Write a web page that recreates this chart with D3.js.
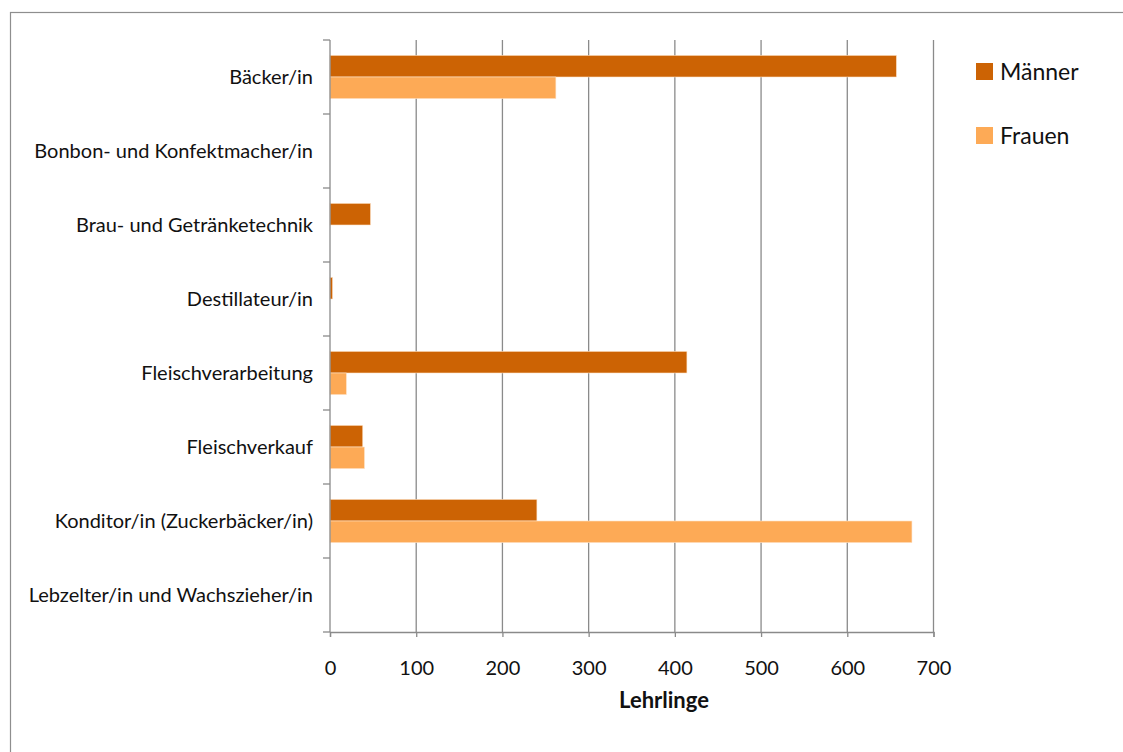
<!DOCTYPE html>
<html>
<head>
<meta charset="utf-8">
<script src="https://cdn.jsdelivr.net/npm/d3@7"></script>
<style>
    body { margin: 0; background: #fff; }
    text { font-family: Lato, "Open Sans", sans-serif; fill: #111; }
</style>
</head>
<body>
<div id="chart"></div>
<script>
// Data
var categories = [
    'Bäcker/in',
    'Bonbon- und Konfektmacher/in',
    'Brau- und Getränketechnik',
    'Destillateur/in',
    'Fleischverarbeitung',
    'Fleischverkauf',
    'Konditor/in (Zuckerbäcker/in)',
    'Lebzelter/in und Wachszieher/in'
];
var seriesNames = ['Männer', 'Frauen'];
var maennerValues = [657, 0, 47, 3, 414, 38, 240, 0];
var frauenValues = [262, 0, 0, 0, 19, 40, 675, 0];
var xTicks = [0, 100, 200, 300, 400, 500, 600, 700];
var xTitle = 'Lehrlinge';

var colors = {'Männer': '#cc6304', 'Frauen': '#fdaa56'};

var data = categories.map((c, i) => ({
    category: c,
    values: [
        {series: 'Männer', value: maennerValues[i]},
        {series: 'Frauen', value: frauenValues[i]}
    ]
}));

var width = 1123, height = 752;
var margin = {top: 40, left: 330, right: 190, bottom: 120};
var plotWidth = 933.5 - margin.left;
var plotHeight = height - margin.top - margin.bottom;

var svg = d3.select('#chart').append('svg')
    .attr('width', width)
    .attr('height', height);

// chart area border
svg.append('rect')
    .attr('x', 10.5).attr('y', 12.5)
    .attr('width', 1200).attr('height', 800)
    .attr('fill', 'none')
    .attr('stroke', '#8e8e8e')
    .attr('stroke-width', 1.2);

var g = svg.append('g').attr('transform', `translate(${margin.left},${margin.top})`);

// Scales setup
var xScale = d3.scaleLinear().domain([0, 700]).range([0, plotWidth]);
var yScale = d3.scaleBand().domain(categories).range([0, plotHeight]).padding(0);
var seriesScale = d3.scaleBand().domain(seriesNames).range([0, yScale.bandwidth()])
    .paddingInner(0).paddingOuter(0.71);

// vertical gridlines
g.append('g').selectAll('line')
    .data(xTicks.filter((t) => t > 0))
    .enter().append('line')
    .attr('x1', (d) => xScale(d)).attr('x2', (d) => xScale(d))
    .attr('y1', 0).attr('y2', plotHeight)
    .attr('stroke', '#8a8a8a')
    .attr('stroke-width', 1.3);

// bars
var groups = g.selectAll('.cat').data(data).enter().append('g')
    .attr('class', 'cat')
    .attr('transform', (d) => `translate(0,${yScale(d.category)})`);

groups.selectAll('rect')
    .data((d) => d.values.filter((v) => v.value > 0))
    .enter().append('rect')
    .attr('x', 0)
    .attr('y', (d) => seriesScale(d.series))
    .attr('width', (d) => xScale(d.value))
    .attr('height', seriesScale.bandwidth())
    .attr('fill', (d) => colors[d.series])
    .attr('stroke', '#fde3c8')
    .attr('stroke-width', 0.6);

// x axis
var xAxis = d3.axisBottom(xScale).tickValues(xTicks).tickSize(5).tickPadding(24);
var gx = g.append('g').attr('transform', `translate(0,${plotHeight})`).call(xAxis);
gx.select('.domain').attr('stroke', '#8a8a8a').attr('stroke-width', 1.3);
gx.selectAll('.tick line').attr('stroke', '#8a8a8a').attr('stroke-width', 1.3);
gx.selectAll('.tick text')
    .style('font-size', '20px')
    .attr('fill', '#111');
gx.append('line')
    .attr('x1', -7).attr('x2', 0).attr('y1', 0).attr('y2', 0)
    .attr('stroke', '#8a8a8a').attr('stroke-width', 1.3);

// y axis, ticks between categories
var gy = g.append('g');
gy.append('line')
    .attr('x1', 0).attr('x2', 0).attr('y1', 0).attr('y2', plotHeight)
    .attr('stroke', '#8a8a8a').attr('stroke-width', 1.3);
gy.selectAll('.sep')
    .data(categories.slice())
    .enter().append('line')
    .attr('x1', -7).attr('x2', 0)
    .attr('y1', (d) => yScale(d)).attr('y2', (d) => yScale(d))
    .attr('stroke', '#8a8a8a').attr('stroke-width', 1.3);
gy.selectAll('.lbl')
    .data(categories)
    .enter().append('text')
    .attr('x', -17)
    .attr('y', (d) => yScale(d) + yScale.bandwidth() / 2)
    .attr('dy', '0.35em')
    .attr('text-anchor', 'end')
    .style('font-size', '20px')
    .text((d) => d);

// axis title
g.append('text')
    .attr('x', 664 - margin.left)
    .attr('y', 708 - margin.top)
    .attr('text-anchor', 'middle')
    .style('font-size', '22px')
    .style('font-weight', 'bold')
    .text(xTitle);

// legend
var legend = svg.append('g').attr('transform', 'translate(976,63)');
var item = legend.selectAll('.item').data(seriesNames).enter().append('g')
    .attr('transform', (d, i) => `translate(0,${i * 64})`);
item.append('rect')
    .attr('width', 17).attr('height', 17)
    .attr('fill', (d) => colors[d]);
item.append('text')
    .attr('x', 24).attr('y', 16.5)
    .style('font-size', '23px')
    .text((d) => d);
</script>
</body>
</html>
